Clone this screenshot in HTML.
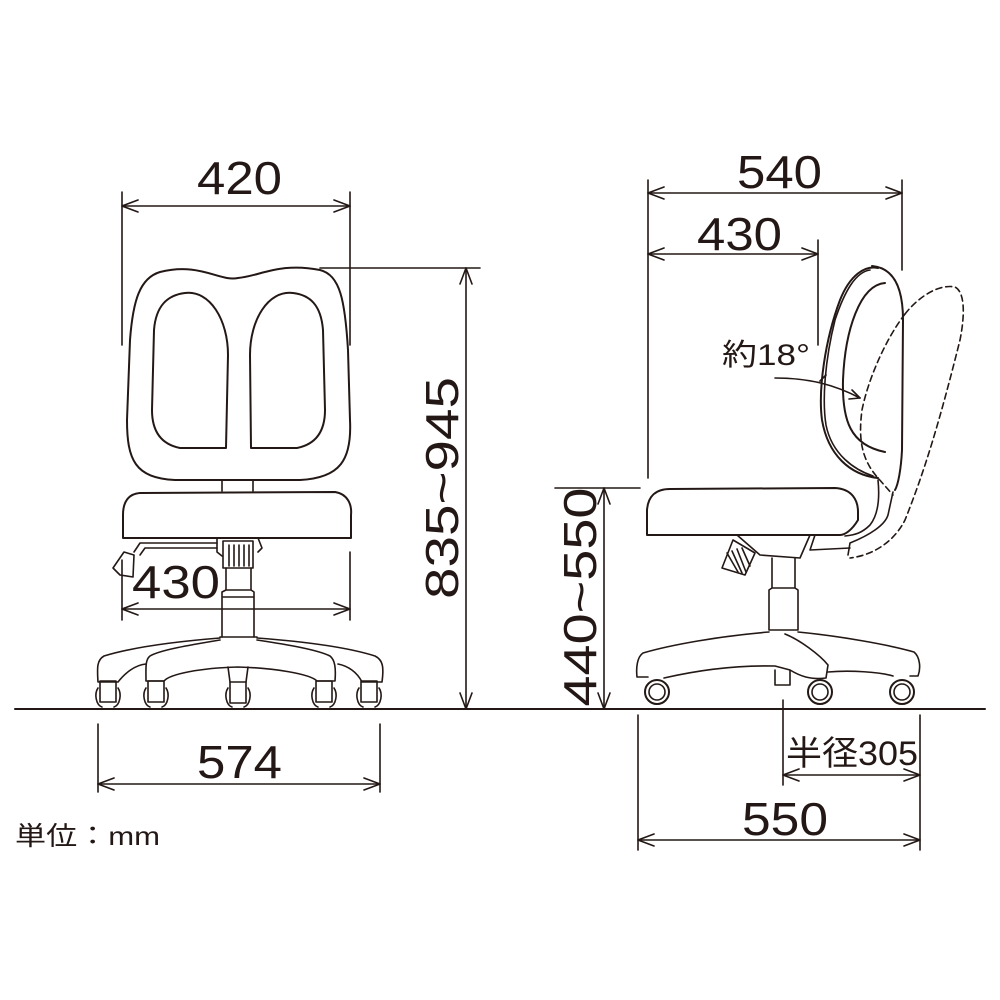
<!DOCTYPE html>
<html><head><meta charset="utf-8"><style>
html,body{margin:0;padding:0;background:#fff}
svg{display:block}
text{font-family:"Liberation Sans","Noto Sans CJK JP",sans-serif;fill:#231815}
</style></head><body>
<svg width="1000" height="1000" viewBox="0 0 1000 1000" xmlns="http://www.w3.org/2000/svg">
<g fill="none" stroke="#231815" stroke-width="1.6" stroke-linejoin="round" stroke-linecap="round">
<line x1="15" y1="709" x2="985" y2="709" stroke-width="2"/>

<line x1="122" y1="192" x2="122" y2="345"/>
<line x1="350" y1="192" x2="350" y2="345"/>
<line x1="122" y1="206" x2="350" y2="206"/>
<path d="M138 200 L122 206 L138 212 M334 200 L350 206 L334 212"/>
<line x1="320" y1="268" x2="480" y2="268"/>
<line x1="466" y1="268" x2="466" y2="709"/>
<path d="M460 284 L466 268 L472 284 M460 693 L466 709 L472 693"/>
<line x1="122" y1="560" x2="122" y2="620"/>
<line x1="350" y1="552" x2="350" y2="620"/>
<line x1="122" y1="609" x2="350" y2="609"/>
<path d="M138 603 L122 609 L138 615 M334 603 L350 609 L334 615"/>
<line x1="98" y1="724" x2="98" y2="792"/>
<line x1="380" y1="724" x2="380" y2="792"/>
<line x1="98" y1="784" x2="380" y2="784"/>
<path d="M114 778 L98 784 L114 790 M364 778 L380 784 L364 790"/>

<path stroke-width="2" d="M160 272 C200 262 220 282 238 278 C260 276 280 262 320 270 C340 275 345 300 348 350 L350 420 C352 460 340 478 300 480 L175 480 C135 478 127 460 127 420 L130 340 C133 300 140 278 160 272 Z"/>
<path stroke-width="2" d="M185 293 C210 290 228 320 228 355 L226 448 L180 448 C160 444 152 430 152 410 L154 330 C156 305 168 295 185 293 Z"/>
<path stroke-width="2" d="M293 293 C268 290 250 320 250 355 L251 448 L297 448 C317 444 325 430 325 410 L323 330 C321 305 310 295 293 293 Z"/>
<path d="M222 480 L222 491 M253 480 L253 491"/>
<path stroke-width="2" d="M140 493 L335 492 C348 494 352 505 351 515 L351 538 L123 538 L123 515 C123 502 128 494 140 493 Z"/>
<path d="M217 538 L217 552 L222 556 M258 538 L262 548 L258 552"/>
<rect x="223" y="541" width="30" height="27"/>
<path d="M229 545 V566 M234 545 V566 M239 545 V566 M244 545 V566 M249 545 V566"/>
<path d="M217 543 L140 543 L134 552 M217 548 L145 548 L140 555"/>
<path d="M124 552 L134 555 L133 577 L120 575 L113 568 Z"/>
<path d="M226 568 L226 590 L222 592 L222 637 M251 568 L251 590 L254 592 L254 637 M222 597 H254 M226 590 H251"/>
<line x1="220" y1="637" x2="257" y2="637"/>
<path d="M220 638 C170 642 130 648 104 656 C97 660 97 667 98 682 L118 682 C125 673 135 665 146 664"/>
<path d="M257 638 C310 642 350 648 375 656 C383 660 384 667 382 682 L362 682 C357 672 348 666 338 664"/>
<path d="M220 640 C190 645 160 650 150 656 C145 660 146 668 146 681 L164 681 C170 674 200 668 238 667 C275 668 310 674 317 681 L335 681 C336 668 335 660 330 656 C318 650 290 645 257 640"/>
<path d="M228 667 L230 682 M248 667 L246 682"/>
<g>
<rect x="100" y="681" width="16" height="21"/><path d="M98 688 C94 694 96 705 102 707 M118 688 C122 694 120 705 114 707"/>
<rect x="148" y="681" width="16" height="21"/><path d="M146 688 C142 694 144 705 150 707 M166 688 C170 694 168 705 162 707"/>
<rect x="230" y="682" width="16" height="21"/><path d="M228 688 C224 694 226 705 232 707 M248 688 C252 694 250 705 244 707"/>
<rect x="316" y="681" width="16" height="21"/><path d="M314 688 C310 694 312 705 318 707 M334 688 C338 694 336 705 330 707"/>
<rect x="361" y="681" width="16" height="21"/><path d="M359 688 C355 694 357 705 363 707 M379 688 C383 694 381 705 375 707"/>
</g>

<line x1="648" y1="180" x2="648" y2="478"/>
<line x1="902" y1="180" x2="902" y2="270"/>
<line x1="648" y1="193" x2="902" y2="193"/>
<path d="M664 187 L648 193 L664 199 M886 187 L902 193 L886 199"/>
<line x1="818" y1="240" x2="818" y2="345"/>
<line x1="648" y1="254" x2="818" y2="254"/>
<path d="M664 248 L648 254 L664 260 M802 248 L818 254 L802 260"/>
<line x1="555" y1="488" x2="640" y2="488"/>
<line x1="604" y1="488" x2="604" y2="709"/>
<path d="M598 504 L604 488 L610 504 M598 693 L604 709 L610 693"/>
<line x1="783" y1="700" x2="783" y2="785"/>
<line x1="920" y1="715" x2="920" y2="850"/>
<line x1="783" y1="775" x2="920" y2="775"/>
<path d="M799 769 L783 775 L799 781 M904 769 L920 775 L904 781"/>
<line x1="638" y1="715" x2="638" y2="850"/>
<line x1="638" y1="840" x2="920" y2="840"/>
<path d="M654 834 L638 840 L654 846 M904 834 L920 840 L904 846"/>

<path stroke-width="2" d="M878 268 C865 265 850 275 840 300 C825 340 818 390 822 420 C828 455 850 475 878 478"/>
<path stroke-width="2" d="M872 266 C895 268 903 290 903 320 L902 450 C901 470 898 485 895 490"/>
<path d="M870 270 C856 272 845 290 835 320 C825 360 822 400 826 425 C832 455 855 470 873 476"/>
<path stroke-width="2" d="M885 283 C860 285 845 330 843 380 C842 420 850 445 885 452"/>
<path d="M878 480 C880 500 878 515 870 525 C862 533 855 535 845 536"/>
<path d="M893 492 L888 515 C885 525 870 535 850 543 L848 555"/>
<path d="M775 378 C810 378 835 385 860 398" />
<path d="M852 390 L860 398 L849 399"/>
<path d="M826 375 L820 381"/>
<path stroke-dasharray="6 4" d="M905 314 C920 295 940 284 955 287 C965 292 965 315 960 340 C940 420 925 470 905 520 C895 540 875 555 850 558"/>
<path stroke-dasharray="6 4" d="M905 314 C885 340 868 380 862 410 C858 440 862 460 878 478 L893 495"/>
<path stroke-width="2" d="M670 489 L835 488 C852 489 858 500 858 512 L858 520 C852 530 845 535 840 535 L647 535 L647 510 C648 496 656 489 670 489 Z"/>
<path d="M737 535 L760 555 L800 558 L810 535"/>
<path d="M815 535 L810 550 L850 548"/>
<path d="M733 540 L755 553 L745 575 L722 568 Z"/>
<path d="M727 553 L738 572 M732 551 L742 573 M737 549 L746 572 M742 548 L750 566"/>
<path d="M772 558 L772 588 L769 590 L769 630 L798 630 L798 590 L795 588 L795 558 M772 588 H795"/>
<path d="M769 632 C720 636 670 645 643 653 C637 657 636 668 637 677 L648 677"/>
<path d="M664 678 C690 672 730 665 775 666 L790 670 C800 676 810 680 826 678 L828 665 C820 655 800 640 785 634"/>
<path d="M798 632 C840 636 890 645 914 652 C920 657 921 668 918 676 L910 676"/>
<path d="M828 672 C850 670 880 672 893 676"/>
<path d="M775 670 L775 685 L790 685 L790 670"/>
<circle cx="657" cy="692" r="12" stroke-width="2"/><circle cx="657" cy="692" r="8"/>
<circle cx="820" cy="692" r="12" stroke-width="2"/><circle cx="820" cy="692" r="8"/>
<circle cx="902" cy="692" r="12" stroke-width="2"/><circle cx="902" cy="692" r="8"/>
</g>

<g font-size="46" lengthAdjust="spacingAndGlyphs">
<text x="197" y="194" textLength="85" lengthAdjust="spacingAndGlyphs">420</text>
<text x="132" y="598" textLength="88" lengthAdjust="spacingAndGlyphs">430</text>
<text x="197" y="778" textLength="85" lengthAdjust="spacingAndGlyphs">574</text>
<text transform="translate(458,488) rotate(-90)" text-anchor="middle" textLength="222" lengthAdjust="spacingAndGlyphs">835~945</text>
<text x="737" y="188" textLength="85" lengthAdjust="spacingAndGlyphs">540</text>
<text x="697" y="250" textLength="85" lengthAdjust="spacingAndGlyphs">430</text>
<text transform="translate(596,597) rotate(-90)" text-anchor="middle" textLength="219" lengthAdjust="spacingAndGlyphs">440~550</text>
<text x="742" y="835" textLength="86" lengthAdjust="spacingAndGlyphs">550</text>
</g>
<text x="15" y="845" font-size="26" textLength="145" lengthAdjust="spacingAndGlyphs">単位：mm</text>
<text x="786" y="765" font-size="34" textLength="132" lengthAdjust="spacingAndGlyphs">半径305</text>
<text x="722" y="365" font-size="30" textLength="88" lengthAdjust="spacingAndGlyphs">約18°</text>
</svg>
</body></html>
